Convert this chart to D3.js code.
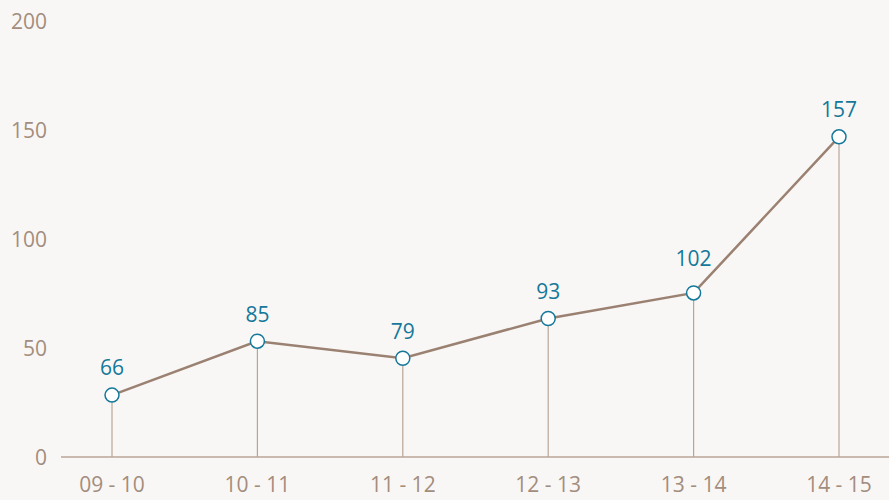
<!DOCTYPE html>
<html>
<head>
<meta charset="utf-8">
<script src="https://cdn.jsdelivr.net/npm/d3@7"></script>
<style>
  body { margin: 0; background: #f9f7f5; }
  svg { display: block; font-family: "Open Sans", "Noto Sans", sans-serif; }
</style>
</head>
<body>
<script>
const w = 889;
const h = 500;

// data
const seasons = ["09 - 10", "10 - 11", "11 - 12", "12 - 13", "13 - 14", "14 - 15"];
const counts = [66, 85, 79, 93, 102, 157];
const yTicks = [0, 50, 100, 150, 200];

const lineColor = "#9a8171";
const dropColor = "#b9a597";
const textColor = "#a38d7d";
const labelColor = "#14789a";

let svg = d3.select("body")
            .append("svg")
            .attr("width", w)
            .attr("height", h);

let x = d3.scalePoint()
          .domain(seasons)
          .range([112, 839]);

// the points are placed on a stretched scale, the axis labels on 0-200
let y = d3.scaleLinear()
          .domain([44.2, 197.8])
          .range([457, 21]);

let yAxisScale = d3.scaleLinear()
          .domain([0, 200])
          .range([457, 21]);

// y tick labels
svg.selectAll(".ytick")
    .data(yTicks)
    .enter()
    .append("text")
    .attr("class", "ytick")
    .attr("x", 47)
    .attr("y", (d) => yAxisScale(d) + 1)
    .attr("dy", "0.35em")
    .attr("text-anchor", "end")
    .attr("font-size", 21)
    .attr("fill", textColor)
    .text((d) => d);

// baseline
svg.append("line")
    .attr("x1", 61)
    .attr("x2", w)
    .attr("y1", 457)
    .attr("y2", 457)
    .attr("stroke", dropColor)
    .attr("stroke-width", 1.5);

// x labels
svg.selectAll(".xtick")
    .data(seasons)
    .enter()
    .append("text")
    .attr("class", "xtick")
    .attr("x", (d) => x(d))
    .attr("y", 485)
    .attr("dy", "0.35em")
    .attr("text-anchor", "middle")
    .attr("font-size", 21)
    .attr("fill", textColor)
    .text((d) => d);

let data = seasons.map((s, i) => ({ season: s, value: counts[i] }));

// drop lines
svg.selectAll(".drop")
    .data(data)
    .enter()
    .append("line")
    .attr("class", "drop")
    .attr("x1", (d) => x(d.season))
    .attr("x2", (d) => x(d.season))
    .attr("y1", (d) => y(d.value))
    .attr("y2", 457)
    .attr("stroke", dropColor)
    .attr("stroke-width", 1.2);

let line = d3.line()
             .x((d) => x(d.season))
             .y((d) => y(d.value));

svg.append("path")
    .datum(data)
    .attr("d", line)
    .attr("fill", "none")
    .attr("stroke", lineColor)
    .attr("stroke-width", 2.5);

svg.selectAll("circle")
    .data(data)
    .enter()
    .append("circle")
    .attr("cx", (d) => x(d.season))
    .attr("cy", (d) => y(d.value))
    .attr("r", 7)
    .attr("fill", "white")
    .attr("stroke", labelColor)
    .attr("stroke-width", 1.5);

// push a label up a bit when the next segment climbs steeply past it
function labelOffset(d, i) {
    let next = data[i + 1];
    if (next && (y(d.value) - y(next.value)) > 100) return 34;
    return 27;
}

svg.selectAll(".vlabel")
    .data(data)
    .enter()
    .append("text")
    .attr("class", "vlabel")
    .attr("x", (d) => x(d.season))
    .attr("y", (d, i) => y(d.value) - labelOffset(d, i))
    .attr("dy", "0.35em")
    .attr("text-anchor", "middle")
    .attr("font-size", 21)
    .attr("fill", labelColor)
    .text((d) => d.value);
</script>
</body>
</html>
